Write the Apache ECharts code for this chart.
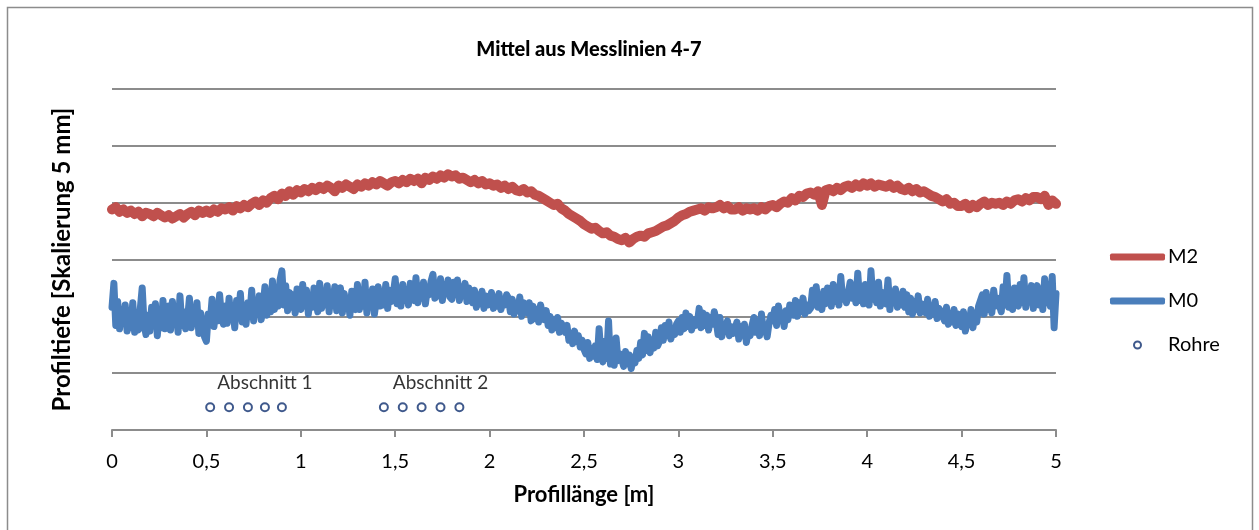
<!DOCTYPE html>
<html>
<head>
<meta charset="utf-8">
<script src="https://cdn.jsdelivr.net/npm/echarts@6/dist/echarts.min.js"></script>
<style>
html,body{margin:0;padding:0;background:#fff;}
#chart{width:1259px;height:530px;}
</style>
</head>
<body>
<div id="chart"></div>
<script>
// Sampling steps along the profile (m)
const m2Step = 0.02;
const m0Step = 0.01;

// M2 profile depth values (every 0.02 m from 0 to 5 m)
const m2Values = [
  19.4,19.6,19.2,19.4,19.1, 19.3,19.0,19.2,18.8,19.1, 19.0,18.8,19.1,18.9,18.7, 18.9,18.6,18.8,19.0,18.7,
  19.0,19.2,18.9,19.3,19.1, 19.3,19.1,19.4,19.2,19.5, 19.4,19.6,19.3,19.7,19.5, 19.8,19.6,19.9,20.1,19.8,
  20.2,20.0,20.4,20.6,20.3, 20.8,20.6,21.0,20.7,21.1, 20.9,21.2,21.0,21.3,21.1, 21.4,21.2,21.5,21.3,21.0,
  21.5,21.3,21.6,21.4,21.2, 21.6,21.4,21.7,21.5,21.8, 21.6,21.9,21.7,21.5,21.8, 21.9,21.7,22.0,21.8,22.1,
  21.9,22.1,21.7,22.2,22.0, 22.3,22.1,22.4,22.2,22.5, 22.3,22.4,22.1,22.2,22.0, 21.8,22.0,21.7,21.9,21.6,
  21.7,21.5,21.6,21.3,21.5, 21.2,21.4,21.1,21.0,21.2, 20.9,21.0,20.7,20.6,20.4, 20.2,20.0,19.8,19.9,19.5,
  19.3,19.0,18.8,18.6,18.4, 18.1,17.9,17.7,17.8,17.5, 17.3,17.4,17.1,17.0,16.8, 16.7,16.9,16.5,16.8,17.0,
  17.1,17.0,17.3,17.4,17.5, 17.7,17.9,18.0,18.2,18.4, 18.7,18.9,19.0,19.2,19.3, 19.4,19.5,19.3,19.6,19.5,
  19.6,19.8,19.5,19.7,19.4, 19.4,19.6,19.3,19.5,19.4, 19.5,19.3,19.6,19.4,19.7, 19.8,19.6,19.9,20.1,20.0,
  20.4,20.2,20.6,20.5,20.8, 20.9,20.7,21.0,19.8,21.1, 21.2,21.0,21.3,21.1,21.4, 21.5,21.3,21.6,21.4,21.7,
  21.5,21.7,21.4,21.6,21.5, 21.4,21.6,21.3,21.5,21.2, 21.1,21.3,21.0,21.2,20.9, 21.0,20.8,20.6,20.5,20.3,
  20.1,20.3,19.9,20.0,19.7, 19.7,19.9,19.5,19.8,19.6, 19.9,20.1,19.8,20.0,19.9, 20.0,19.8,20.1,19.9,20.2,
  20.3,20.1,20.4,20.2,20.5, 20.5,20.3,20.6,19.8,20.2, 19.9
];

// M0 profile depth values (every 0.01 m from 0 to 5 m)
const m0Values = [
  10.8,12.9,9.2,11.3,8.9,10.6,9.4,11.0,8.7,10.2,
  9.0,11.2,8.6,9.9,8.8,10.7,12.5,9.3,8.4,10.1,
  8.7,10.8,9.2,11.1,8.3,10.4,9.0,11.4,8.9,10.0,
  10.9,8.8,11.3,9.5,10.6,8.6,11.8,9.2,10.4,8.9,
  9.7,11.6,9.0,10.8,9.4,11.2,8.5,10.3,9.1,8.2,
  7.8,10.2,9.4,11.5,9.1,10.8,9.6,11.9,10.0,9.3,
  10.9,9.4,11.6,9.8,10.7,9.0,11.4,10.1,12.0,9.5,
  10.6,9.3,11.2,10.0,12.3,9.6,11.4,10.2,11.8,9.7,
  10.8,12.6,10.1,11.5,10.4,13.1,10.6,12.2,10.9,13.2,
  14.0,11.0,12.7,10.5,12.1,10.8,11.9,10.3,12.4,11.1,
  10.6,12.8,10.9,12.3,10.2,11.7,10.8,12.5,11.3,10.4,
  12.9,10.7,12.2,11.0,12.7,10.4,11.9,11.2,12.6,10.5,
  11.8,12.5,10.3,12.0,10.8,11.6,10.1,12.2,11.0,10.6,
  12.8,10.6,11.9,10.9,13.0,10.3,12.1,11.1,12.4,10.2,
  11.5,12.6,10.9,12.2,11.0,12.8,10.7,12.3,11.3,12.0,
  13.3,11.1,12.5,10.9,12.8,11.4,12.1,11.0,12.9,11.6,
  11.4,13.4,11.2,12.7,11.6,13.0,11.1,12.4,11.9,13.1,
  13.7,11.6,12.9,11.8,13.3,11.4,12.8,12.0,13.2,11.7,
  11.5,13.0,11.9,13.2,11.4,12.6,11.8,12.9,11.3,12.5,
  12.4,11.2,12.3,10.8,11.9,11.1,12.2,10.7,11.8,11.0,
  11.2,12.1,10.7,11.7,10.9,12.0,10.6,11.5,11.0,11.9,
  11.6,10.4,11.5,10.2,11.1,10.5,11.7,10.0,11.2,10.6,
  10.3,11.2,9.6,10.9,9.8,10.6,9.5,11.0,10.1,9.7,
  10.5,9.2,10.0,8.8,9.7,9.0,9.9,8.6,9.4,8.9,
  8.6,9.2,7.9,8.5,7.6,8.7,7.8,8.3,7.3,7.9,
  7.1,6.7,7.7,6.3,7.2,6.5,7.4,6.2,8.9,6.6,
  6.0,7.8,6.3,9.6,5.8,6.9,5.7,8.1,6.1,6.7,
  6.2,5.6,6.9,5.8,6.6,5.4,6.4,5.9,7.0,6.3,
  7.7,6.6,8.5,7.0,8.2,6.8,7.9,7.2,8.6,7.4,
  7.8,9.0,7.9,9.2,8.3,9.5,8.0,8.8,8.4,9.3,
  9.6,8.6,9.9,8.9,10.3,9.1,10.0,8.8,9.7,9.2,
  9.4,10.7,9.0,10.3,9.2,10.1,8.8,9.9,9.3,10.4,
  9.6,8.4,9.9,8.2,9.3,8.7,9.6,8.3,9.1,8.5,
  8.9,9.5,8.0,9.1,8.5,9.3,7.7,8.8,8.3,9.2,
  9.9,8.6,9.5,8.3,10.2,8.7,9.0,8.2,9.4,10.1,
  9.6,10.6,9.2,10.9,9.8,10.3,9.1,10.5,9.7,11.0,
  11.1,10.1,11.4,10.0,11.2,10.4,11.6,10.2,11.0,10.5,
  10.7,12.3,11.0,12.6,10.8,11.9,10.6,12.2,11.1,12.5,
  11.8,10.9,12.8,11.3,12.4,11.0,13.5,11.5,12.1,11.2,
  11.3,13.0,11.6,12.7,11.2,13.8,11.4,12.5,11.1,12.8,
  12.3,11.0,14.0,11.5,12.3,11.2,13.0,10.9,12.1,11.4,
  11.1,13.2,10.6,12.1,11.3,12.4,10.8,11.9,11.0,12.2,
  10.8,11.9,10.4,11.6,10.2,11.3,10.6,11.8,10.3,11.1,
  11.2,10.3,11.5,10.0,10.9,10.2,11.3,9.8,10.7,10.4,
  10.3,9.6,10.8,9.3,10.0,9.5,10.6,9.2,10.2,9.7,
  9.1,10.4,8.7,9.9,9.3,10.6,9.0,10.2,9.5,10.9,
  10.8,11.9,10.2,12.1,10.6,11.4,10.3,12.3,10.9,11.6,
  11.7,10.4,12.6,11.0,13.6,10.8,12.2,10.6,12.5,11.1,
  10.9,12.8,11.2,13.4,10.8,12.0,11.3,12.7,10.7,12.3,
  12.7,11.0,12.4,10.6,13.3,11.2,12.0,10.9,13.5,9.0,
  12.0
];

// Rohre (pipe) positions and depth
const rohreX = [0.52, 0.62, 0.72, 0.81, 0.90, 1.44, 1.54, 1.64, 1.74, 1.84];
const rohreY = [2, 2, 2, 2, 2, 2, 2, 2, 2, 2];
const rohreLabels = ['', '', '', 'Abschnitt 1', '', '', '', '', 'Abschnitt 2', ''];

// X-axis ticks
const xMin = 0, xMax = 5, xInterval = 0.5;

const m2Data = m2Values.map((v, i) => [+(i * m2Step).toFixed(2), v]);
const m0Data = m0Values.map((v, i) => [+(i * m0Step).toFixed(2), v]);
const rohreData = rohreX.map((x, i) => ({ value: [x, rohreY[i]], label: { show: rohreLabels[i] !== '', formatter: rohreLabels[i] } }));

const FONT = 'Lato, "Open Sans", sans-serif';
const chart = echarts.init(document.getElementById('chart'), null, { renderer: 'canvas' });
chart.setOption({
  backgroundColor: '#ffffff',
  animation: false,
  graphic: [{
    type: 'rect',
    shape: { x: 7.5, y: 7.5, width: 1245, height: 540 },
    style: { fill: 'none', stroke: '#8c8c8c', lineWidth: 1.5 },
    silent: true
  }],
  title: {
    text: 'Mittel aus Messlinien 4-7',
    left: 584, top: 35, textAlign: 'center',
    textStyle: { fontFamily: FONT, fontSize: 20, fontWeight: 900, color: '#000' }
  },
  legend: {
    orient: 'vertical',
    left: 1110, top: 247, padding: 0,
    itemWidth: 55, itemHeight: 7,
    itemGap: 24,
    textStyle: { fontFamily: FONT, fontSize: 20, color: '#000', padding: [0, 0, 0, -2] },
    data: [
      { name: 'M2', icon: 'roundRect' },
      { name: 'M0', icon: 'roundRect' },
      { name: 'Rohre', icon: 'circle' }
    ]
  },
  grid: { left: 112, right: 203, top: 89, bottom: 100, containLabel: false },
  xAxis: {
    type: 'value', min: xMin, max: xMax, interval: xInterval,
    name: 'Profillänge [m]', nameLocation: 'middle', nameGap: 54,
    nameTextStyle: { fontFamily: FONT, fontSize: 22, fontWeight: 'bold', color: '#000' },
    axisLine: { show: true, lineStyle: { color: '#8c8c8c', width: 2 } },
    axisTick: { show: true, length: 7, lineStyle: { color: '#8c8c8c', width: 2 } },
    axisLabel: { margin: 22, fontFamily: FONT, fontSize: 20, color: '#000',
      formatter: v => String(v).replace('.', ',') },
    splitLine: { show: false }
  },
  yAxis: {
    type: 'value', min: 0, max: 30, interval: 5,
    name: 'Profiltiefe [Skalierung 5 mm]', nameLocation: 'middle', nameGap: 38,
    nameTextStyle: { fontFamily: FONT, fontSize: 24, fontWeight: 'bold', color: '#000' },
    axisLine: { show: false }, axisTick: { show: false },
    axisLabel: { show: false },
    splitLine: { show: true, lineStyle: { color: '#8c8c8c', width: 2 } }
  },
  series: [
    {
      name: 'M2', type: 'line', data: m2Data, symbol: 'none',
      lineStyle: { color: '#c0504d', width: 10, join: 'round', cap: 'round' },
      itemStyle: { color: '#c0504d' }, z: 3
    },
    {
      name: 'M0', type: 'line', data: m0Data, symbol: 'none',
      lineStyle: { color: '#4a7ebb', width: 7, join: 'round', cap: 'round' },
      itemStyle: { color: '#4a7ebb' }, z: 3
    },
    {
      name: 'Rohre', type: 'scatter', data: rohreData,
      symbol: 'circle', symbolSize: 8,
      itemStyle: { color: '#ffffff', borderColor: '#0f2f6f', borderWidth: 2 },
      label: { position: 'top', distance: 10, fontFamily: FONT, fontSize: 19, color: '#000' },
      z: 4
    }
  ]
});
</script>
</body>
</html>
